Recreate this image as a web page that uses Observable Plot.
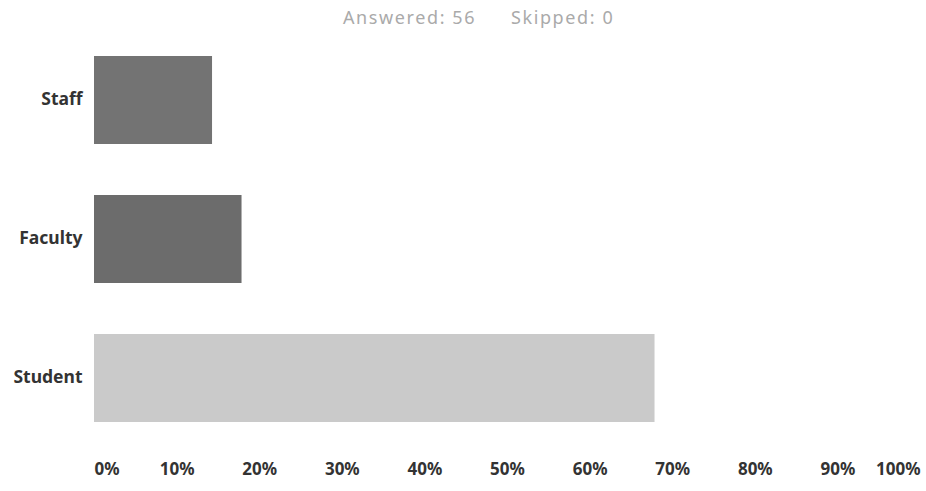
<!DOCTYPE html>
<html>
<head>
<meta charset="utf-8">
<script src="https://cdn.jsdelivr.net/npm/d3@7"></script>
<script src="https://cdn.jsdelivr.net/npm/@observablehq/plot@0.6"></script>
<style>
  body { margin: 0; background: #fff; font-family: "Noto Sans", sans-serif; }
  #header { height: 34px; line-height: 34px; font-size: 18px; letter-spacing: 1.6px; color: #aaa; position: relative; }
  #header span { position: absolute; top: 0; }
  svg { display: block; }
</style>
</head>
<body>
<div id="header"><span style="left:343px">Answered: 56</span><span style="left:511px">Skipped: 0</span></div>
<div id="chart"></div>
<script>
const categories = ["Staff", "Faculty", "Student"];
const shares = [0.1429, 0.1786, 0.6786];
const barColors = ["#737373", "#6c6c6c", "#cacaca"];
const tickValues = [0, 0.1, 0.2, 0.3, 0.4, 0.5, 0.6, 0.7, 0.8, 0.9, 1];

const data = categories.map((c, i) => ({category: c, share: shares[i], color: barColors[i]}));
const fmt = d => Math.round(d * 100) + "%";
const axisCommon = {anchor: "bottom", tickSize: 0, tickPadding: 26, tickFormat: fmt, label: null,
  fontSize: 17, fontWeight: "bold", fill: "#333", letterSpacing: 0.8};

const chart = Plot.plot({
  width: 926,
  height: 457,
  marginLeft: 94,
  marginRight: 6,
  marginTop: 7,
  marginBottom: 55,
  style: {fontFamily: "'Noto Sans', sans-serif", background: "#fff"},
  x: {domain: [0, 1]},
  y: {domain: categories, paddingInner: 0.37, paddingOuter: 0.1},
  marks: [
    Plot.barX(data, {x: "share", y: "category", fill: "color"}),
    Plot.axisY({tickSize: 0, tickPadding: 12, label: null, fontSize: 17.5, fontWeight: "bold", fill: "#333", letterSpacing: 0.7, dy: -1.5}),
    Plot.axisX({...axisCommon, ticks: tickValues.slice(0, 1), textAnchor: "start"}),
    Plot.axisX({...axisCommon, ticks: tickValues.slice(1, -1)}),
    Plot.axisX({...axisCommon, ticks: tickValues.slice(-1), textAnchor: "end"})
  ]
});
document.getElementById("chart").appendChild(chart);
</script>
</body>
</html>
